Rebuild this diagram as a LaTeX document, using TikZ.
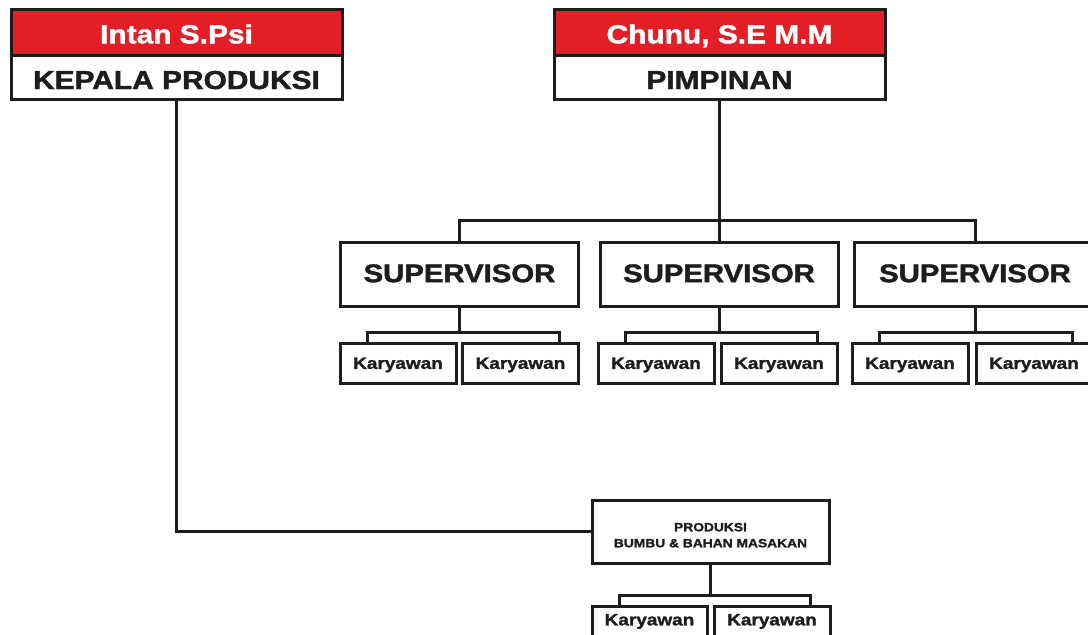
\documentclass[tikz,border=0pt]{standalone}
\usepackage{fontspec}
\newfontfamily\hv[FakeStretch=1.15, BoldFeatures={FakeBold=1.6}]{Liberation Sans}
\usetikzlibrary{calc}
\definecolor{orgred}{RGB}{228,30,38}
\definecolor{ink}{RGB}{30,28,29}
\tikzset{
  box/.style={draw=ink, line width=3pt, fill=white, inner sep=0pt, text=ink,
    font=\hv\bfseries, align=center},
  namebox/.style={box, text height=22.6pt, text depth=0pt, fill=orgred, text=white, minimum width=331pt, minimum height=46pt, font=\hv\bfseries\fontsize{26}{30}\selectfont},
  titlebox/.style={box, text height=24pt, text depth=0pt, minimum width=331pt, minimum height=44pt, font=\hv\bfseries\fontsize{26}{30}\selectfont},
  supbox/.style={box, text height=18.3pt, text depth=2pt, minimum width=238pt, minimum height=64pt, font=\hv\bfseries\fontsize{25.5}{30}\selectfont},
  karbox/.style={box, text height=11.8pt, text depth=0pt, minimum width=116pt, minimum height=40pt, font=\hv\bfseries\fontsize{16.5}{20}\selectfont},
  prodbox/.style={box, text height=31.6pt, text depth=0pt, minimum width=237pt, minimum height=63pt, font=\hv\bfseries\fontsize{12}{16}\selectfont},
  link/.style={draw=ink, line width=3pt}
}
\begin{document}
\begin{tikzpicture}[x=1pt, y=-1pt]
\useasboundingbox (0,0) rectangle (1088,635);
\clip (0,0) rectangle (1088,635);
\fill[white] (0,0) rectangle (1088,635);

% top boxes
\node[namebox]  (kpn) at (176.5,32) {Intan S.Psi};
\node[titlebox] (kp)  at (176.5,77) {KEPALA PRODUKSI};
\node[namebox]  (pmn) at (719.5,32) {Chunu, S.E M.M};
\node[titlebox] (pm)  at (719.5,77) {PIMPINAN};

% supervisors
\node[supbox] (s1) at (459.5,274) {SUPERVISOR};
\node[supbox] (s2) at (719,274) {SUPERVISOR};
\node[supbox, minimum width=242pt] (s3) at (975,274) {SUPERVISOR};

% karyawan
\node[karbox] (k11) at (398,363) {Karyawan};
\node[karbox] (k12) at (520.5,363) {Karyawan};
\node[karbox] (k21) at (656,363) {Karyawan};
\node[karbox] (k22) at (779,363) {Karyawan};
\node[karbox] (k31) at (910,363) {Karyawan};
\node[karbox] (k32) at (1034,363) {Karyawan};

% produksi
\node[prodbox] (pr) at (710.5,531.5) {PRODUKSI\\BUMBU \& BAHAN MASAKAN};
\node[karbox, text depth=13pt, minimum width=115pt] (k41) at (649.5,626) {Karyawan};
\node[karbox, text depth=13pt] (k42) at (772,626) {Karyawan};

% connectors
\draw[link] (kp.south) |- (pr.west);
\draw[link] (pm.south) -- (pm.south |- s2.north);
\draw[link] (s1.north) -- ++(0,20pt) -| (s3.north);

\foreach \s/\a/\b in {s1/k11/k12, s2/k21/k22, s3/k31/k32, pr/k41/k42}{
  \draw[link] ([xshift=29pt]\a.north west) -- ++(0,9pt) -| ([xshift=-21pt]\b.north east);
  \draw[link] (\s.south) -- ($(\a.north -| \s.south)+(0,9pt)$);
}
\end{tikzpicture}
\end{document}
